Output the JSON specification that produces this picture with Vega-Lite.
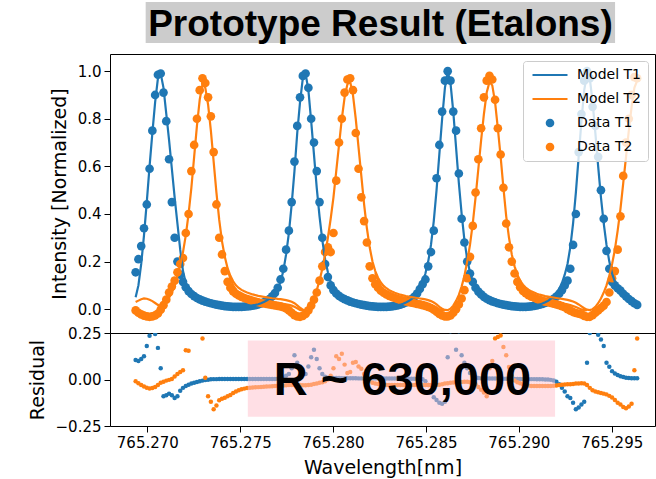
{
"$schema":"https://vega.github.io/schema/vega-lite/v6.json",
"padding":{"left":27,"top":2,"right":0,"bottom":0},
"config":{"font":"DejaVu Sans","view":{"stroke":"#000","strokeWidth":1},
"axis":{"labelFont":"DejaVu Sans","labelFontSize":15,"labelColor":"#000","titleFont":"DejaVu Sans","titleFontSize":19,"titleFontWeight":"normal","titleColor":"#000","tickColor":"#000","tickSize":6,"labelPadding":3,"titlePadding":8,"domain":false,"grid":false}},
"datasets":{
"main":[
{"w":765.26937,"d1":0.155,"m1":0.05,"r1":0.105,"d2":-0.005,"m2":0.03,"r2":-0.01},
{"w":765.26952,"d1":0.21,"m1":0.10,"r1":0.10,"d2":-0.015,"m2":0.036,"r2":-0.02},
{"w":765.26967,"d1":0.265,"m1":0.19,"r1":0.11,"d2":-0.022,"m2":0.042,"r2":-0.03},
{"w":765.26982,"d1":0.34,"m1":0.31,"r1":0.125,"d2":-0.027,"m2":0.045,"r2":-0.038},
{"w":765.26997,"d1":0.44,"m1":0.45,"r1":0.18,"d2":-0.03,"m2":0.044,"r2":-0.044},
{"w":765.27012,"d1":0.59,"m1":0.60,"r1":0.235,"d2":-0.032,"m2":0.04,"r2":-0.048},
{"w":765.27027,"d1":0.75,"m1":0.74,"r1":0.30,"d2":-0.03,"m2":0.034,"r2":-0.046},
{"w":765.27042,"d1":0.90,"m1":0.87,"r1":0.245,"d2":-0.026,"m2":0.026,"r2":-0.04},
{"w":765.27057,"d1":0.985,"m1":0.97,"r1":0.17,"d2":-0.018,"m2":0.018,"r2":-0.03},
{"w":765.27072,"d1":0.99,"m1":0.99,"r1":0.06,"d2":-0.002,"m2":0.014,"r2":-0.018},
{"w":765.27087,"d1":0.91,"m1":0.93,"r1":-0.09,"d2":0.017,"m2":0.018,"r2":-0.012},
{"w":765.27102,"d1":0.79,"m1":0.82,"r1":-0.085,"d2":0.04,"m2":0.03,"r2":-0.006},
{"w":765.27117,"d1":0.63,"m1":0.71,"r1":-0.076,"d2":0.07,"m2":0.048,"r2":-0.002},
{"w":765.27132,"d1":0.45,"m1":0.59,"r1":-0.085,"d2":0.095,"m2":0.07,"r2":0.003},
{"w":765.27147,"d1":0.30,"m1":0.47,"r1":-0.10,"d2":0.12,"m2":0.10,"r2":0.016},
{"w":765.27162,"d1":0.20,"m1":0.36,"r1":-0.09,"d2":0.155,"m2":0.14,"r2":0.03},
{"w":765.27177,"d1":0.145,"m1":0.25,"r1":-0.06,"d2":0.19,"m2":0.185,"r2":0.04},
{"w":765.27192,"d1":0.115,"m1":0.16,"r1":-0.045,"d2":0.215,"m2":0.24,"r2":0.05},
{"w":765.27207,"d1":0.092,"m1":0.11,"r1":-0.035,"d2":0.32,"m2":0.31,"r2":0.157},
{"w":765.27222,"d1":0.076,"m1":0.085,"r1":-0.028,"d2":0.40,"m2":0.40,"r2":0.155},
{"w":765.27237,"d1":0.064,"m1":0.07,"r1":-0.022,"d2":0.58,"m2":0.51,"r2":0.35},
{"w":765.27252,"d1":0.055,"m1":0.059,"r1":-0.017,"d2":0.69,"m2":0.64,"r2":0.40},
{"w":765.27267,"d1":0.047,"m1":0.05,"r1":-0.013,"d2":0.80,"m2":0.77,"r2":0.36},
{"w":765.27282,"d1":0.041,"m1":0.043,"r1":-0.009,"d2":0.92,"m2":0.88,"r2":0.30},
{"w":765.27297,"d1":0.036,"m1":0.038,"r1":-0.006,"d2":0.97,"m2":0.945,"r2":0.22},
{"w":765.27312,"d1":0.032,"m1":0.033,"r1":-0.003,"d2":0.95,"m2":0.93,"r2":0.01},
{"w":765.27327,"d1":0.028,"m1":0.029,"r1":-0.001,"d2":0.89,"m2":0.86,"r2":-0.09},
{"w":765.27342,"d1":0.025,"m1":0.026,"r1":0.001,"d2":0.81,"m2":0.75,"r2":-0.12},
{"w":765.27357,"d1":0.022,"m1":0.023,"r1":0.002,"d2":0.66,"m2":0.62,"r2":-0.16},
{"w":765.27372,"d1":0.019,"m1":0.02,"r1":0.002,"d2":0.44,"m2":0.49,"r2":-0.14},
{"w":765.27387,"d1":0.017,"m1":0.018,"r1":0.003,"d2":0.30,"m2":0.375,"r2":-0.112},
{"w":765.27402,"d1":0.015,"m1":0.016,"r1":0.003,"d2":0.23,"m2":0.285,"r2":-0.104},
{"w":765.27417,"d1":0.013,"m1":0.014,"r1":0.003,"d2":0.16,"m2":0.22,"r2":-0.098},
{"w":765.27432,"d1":0.012,"m1":0.013,"r1":0.003,"d2":0.115,"m2":0.172,"r2":-0.09},
{"w":765.27447,"d1":0.011,"m1":0.012,"r1":0.003,"d2":0.09,"m2":0.14,"r2":-0.083},
{"w":765.27462,"d1":0.010,"m1":0.011,"r1":0.003,"d2":0.075,"m2":0.117,"r2":-0.072},
{"w":765.27477,"d1":0.010,"m1":0.011,"r1":0.003,"d2":0.065,"m2":0.10,"r2":-0.064},
{"w":765.27492,"d1":0.010,"m1":0.011,"r1":0.003,"d2":0.058,"m2":0.089,"r2":-0.058},
{"w":765.27507,"d1":0.010,"m1":0.011,"r1":0.003,"d2":0.052,"m2":0.081,"r2":-0.053},
{"w":765.27522,"d1":0.011,"m1":0.012,"r1":0.003,"d2":0.047,"m2":0.075,"r2":-0.049},
{"w":765.27537,"d1":0.012,"m1":0.013,"r1":0.003,"d2":0.043,"m2":0.07,"r2":-0.046},
{"w":765.27552,"d1":0.013,"m1":0.014,"r1":0.003,"d2":0.039,"m2":0.066,"r2":-0.044},
{"w":765.27567,"d1":0.015,"m1":0.016,"r1":0.003,"d2":0.035,"m2":0.062,"r2":-0.043},
{"w":765.27582,"d1":0.017,"m1":0.018,"r1":0.003,"d2":0.032,"m2":0.059,"r2":-0.042},
{"w":765.27597,"d1":0.020,"m1":0.021,"r1":0.003,"d2":0.029,"m2":0.056,"r2":-0.041},
{"w":765.27612,"d1":0.024,"m1":0.025,"r1":0.003,"d2":0.026,"m2":0.054,"r2":-0.04},
{"w":765.27627,"d1":0.029,"m1":0.03,"r1":0.003,"d2":0.024,"m2":0.052,"r2":-0.039},
{"w":765.27642,"d1":0.035,"m1":0.036,"r1":0.003,"d2":0.022,"m2":0.05,"r2":-0.038},
{"w":765.27657,"d1":0.043,"m1":0.044,"r1":0.003,"d2":0.02,"m2":0.048,"r2":-0.037},
{"w":765.27672,"d1":0.054,"m1":0.055,"r1":0.003,"d2":0.018,"m2":0.046,"r2":-0.036},
{"w":765.27687,"d1":0.068,"m1":0.068,"r1":0.003,"d2":0.016,"m2":0.045,"r2":-0.035},
{"w":765.27702,"d1":0.09,"m1":0.087,"r1":0.004,"d2":0.014,"m2":0.043,"r2":-0.034},
{"w":765.27717,"d1":0.125,"m1":0.115,"r1":0.006,"d2":0.012,"m2":0.042,"r2":-0.033},
{"w":765.27732,"d1":0.17,"m1":0.16,"r1":0.01,"d2":0.008,"m2":0.04,"r2":-0.032},
{"w":765.27747,"d1":0.25,"m1":0.23,"r1":0.02,"d2":0.003,"m2":0.038,"r2":-0.031},
{"w":765.27762,"d1":0.33,"m1":0.32,"r1":0.03,"d2":-0.005,"m2":0.035,"r2":-0.03},
{"w":765.27777,"d1":0.45,"m1":0.44,"r1":0.06,"d2":-0.015,"m2":0.031,"r2":-0.03},
{"w":765.27792,"d1":0.62,"m1":0.58,"r1":0.13,"d2":-0.025,"m2":0.025,"r2":-0.03},
{"w":765.27807,"d1":0.77,"m1":0.74,"r1":0.09,"d2":-0.03,"m2":0.016,"r2":-0.03},
{"w":765.27822,"d1":0.89,"m1":0.87,"r1":0.07,"d2":-0.032,"m2":0.006,"r2":-0.03},
{"w":765.27837,"d1":0.98,"m1":0.97,"r1":0.045,"d2":-0.028,"m2":-0.002,"r2":-0.031},
{"w":765.27852,"d1":0.99,"m1":0.99,"r1":0.03,"d2":-0.02,"m2":-0.004,"r2":-0.031},
{"w":765.27867,"d1":0.93,"m1":0.92,"r1":0.07,"d2":-0.005,"m2":0.004,"r2":-0.03},
{"w":765.27882,"d1":0.80,"m1":0.79,"r1":0.12,"d2":0.015,"m2":0.02,"r2":-0.028},
{"w":765.27897,"d1":0.70,"m1":0.65,"r1":0.16,"d2":0.04,"m2":0.045,"r2":-0.024},
{"w":765.27912,"d1":0.58,"m1":0.51,"r1":0.11,"d2":0.07,"m2":0.08,"r2":-0.022},
{"w":765.27927,"d1":0.45,"m1":0.39,"r1":0.06,"d2":0.12,"m2":0.12,"r2":-0.018},
{"w":765.27942,"d1":0.30,"m1":0.29,"r1":0.03,"d2":0.18,"m2":0.17,"r2":-0.015},
{"w":765.27957,"d1":0.19,"m1":0.21,"r1":0.015,"d2":0.24,"m2":0.23,"r2":-0.01},
{"w":765.27972,"d1":0.135,"m1":0.155,"r1":0.01,"d2":0.26,"m2":0.30,"r2":0.0},
{"w":765.27987,"d1":0.10,"m1":0.115,"r1":0.008,"d2":0.24,"m2":0.38,"r2":0.02},
{"w":765.28002,"d1":0.08,"m1":0.09,"r1":0.008,"d2":0.32,"m2":0.47,"r2":0.06},
{"w":765.28017,"d1":0.066,"m1":0.072,"r1":0.008,"d2":0.54,"m2":0.58,"r2":0.125},
{"w":765.28032,"d1":0.056,"m1":0.06,"r1":0.008,"d2":0.70,"m2":0.69,"r2":0.11},
{"w":765.28047,"d1":0.048,"m1":0.05,"r1":0.007,"d2":0.80,"m2":0.80,"r2":0.139},
{"w":765.28062,"d1":0.042,"m1":0.043,"r1":0.007,"d2":0.91,"m2":0.89,"r2":0.08},
{"w":765.28077,"d1":0.037,"m1":0.037,"r1":0.007,"d2":0.965,"m2":0.945,"r2":0.035},
{"w":765.28092,"d1":0.032,"m1":0.032,"r1":0.007,"d2":0.97,"m2":0.955,"r2":0.04},
{"w":765.28107,"d1":0.028,"m1":0.028,"r1":0.007,"d2":0.92,"m2":0.90,"r2":0.09},
{"w":765.28122,"d1":0.025,"m1":0.025,"r1":0.007,"d2":0.74,"m2":0.80,"r2":0.094},
{"w":765.28137,"d1":0.022,"m1":0.022,"r1":0.006,"d2":0.59,"m2":0.68,"r2":0.07},
{"w":765.28152,"d1":0.019,"m1":0.019,"r1":0.006,"d2":0.47,"m2":0.56,"r2":0.058},
{"w":765.28167,"d1":0.017,"m1":0.017,"r1":0.006,"d2":0.37,"m2":0.44,"r2":0.03},
{"w":765.28182,"d1":0.015,"m1":0.015,"r1":0.006,"d2":0.28,"m2":0.34,"r2":0.005},
{"w":765.28197,"d1":0.013,"m1":0.013,"r1":0.006,"d2":0.18,"m2":0.26,"r2":-0.01},
{"w":765.28212,"d1":0.012,"m1":0.012,"r1":0.006,"d2":0.13,"m2":0.20,"r2":-0.018},
{"w":765.28227,"d1":0.011,"m1":0.011,"r1":0.006,"d2":0.105,"m2":0.16,"r2":-0.022},
{"w":765.28242,"d1":0.010,"m1":0.011,"r1":0.006,"d2":0.09,"m2":0.132,"r2":-0.024},
{"w":765.28257,"d1":0.010,"m1":0.011,"r1":0.006,"d2":0.078,"m2":0.112,"r2":-0.026},
{"w":765.28272,"d1":0.010,"m1":0.011,"r1":0.006,"d2":0.069,"m2":0.098,"r2":-0.028},
{"w":765.28287,"d1":0.010,"m1":0.011,"r1":0.005,"d2":0.062,"m2":0.088,"r2":-0.03},
{"w":765.28302,"d1":0.011,"m1":0.012,"r1":0.005,"d2":0.056,"m2":0.08,"r2":-0.03},
{"w":765.28317,"d1":0.012,"m1":0.013,"r1":0.005,"d2":0.051,"m2":0.074,"r2":-0.03},
{"w":765.28332,"d1":0.014,"m1":0.014,"r1":0.005,"d2":0.047,"m2":0.069,"r2":-0.03},
{"w":765.28347,"d1":0.016,"m1":0.016,"r1":0.005,"d2":0.043,"m2":0.065,"r2":-0.03},
{"w":765.28362,"d1":0.019,"m1":0.019,"r1":0.005,"d2":0.039,"m2":0.061,"r2":-0.03},
{"w":765.28377,"d1":0.023,"m1":0.023,"r1":0.005,"d2":0.036,"m2":0.058,"r2":-0.03},
{"w":765.28392,"d1":0.028,"m1":0.028,"r1":0.005,"d2":0.033,"m2":0.055,"r2":-0.03},
{"w":765.28407,"d1":0.034,"m1":0.034,"r1":0.004,"d2":0.03,"m2":0.053,"r2":-0.03},
{"w":765.28422,"d1":0.042,"m1":0.042,"r1":0.004,"d2":0.027,"m2":0.051,"r2":-0.03},
{"w":765.28437,"d1":0.052,"m1":0.052,"r1":0.004,"d2":0.025,"m2":0.049,"r2":-0.03},
{"w":765.28452,"d1":0.066,"m1":0.066,"r1":0.004,"d2":0.022,"m2":0.047,"r2":-0.03},
{"w":765.28467,"d1":0.085,"m1":0.085,"r1":0.004,"d2":0.02,"m2":0.045,"r2":-0.03},
{"w":765.28482,"d1":0.105,"m1":0.11,"r1":0.002,"d2":0.017,"m2":0.043,"r2":-0.03},
{"w":765.28497,"d1":0.125,"m1":0.15,"r1":-0.01,"d2":0.014,"m2":0.041,"r2":-0.03},
{"w":765.28512,"d1":0.18,"m1":0.2,"r1":-0.03,"d2":0.01,"m2":0.038,"r2":-0.03},
{"w":765.28527,"d1":0.24,"m1":0.27,"r1":-0.07,"d2":0.005,"m2":0.034,"r2":-0.03},
{"w":765.28542,"d1":0.33,"m1":0.37,"r1":-0.095,"d2":-0.002,"m2":0.028,"r2":-0.03},
{"w":765.28557,"d1":0.55,"m1":0.5,"r1":-0.11,"d2":-0.01,"m2":0.02,"r2":-0.03},
{"w":765.28572,"d1":0.69,"m1":0.65,"r1":-0.125,"d2":-0.02,"m2":0.01,"r2":-0.028},
{"w":765.28587,"d1":0.83,"m1":0.8,"r1":-0.13,"d2":-0.026,"m2":0.002,"r2":-0.025},
{"w":765.28602,"d1":0.96,"m1":0.93,"r1":-0.12,"d2":-0.03,"m2":-0.003,"r2":-0.022},
{"w":765.28617,"d1":1.0,"m1":1.0,"r1":0.12,"d2":-0.03,"m2":-0.004,"r2":-0.02},
{"w":765.28632,"d1":0.96,"m1":0.95,"r1":0.26,"d2":-0.026,"m2":0.002,"r2":-0.018},
{"w":765.28647,"d1":0.83,"m1":0.83,"r1":0.30,"d2":-0.015,"m2":0.015,"r2":-0.016},
{"w":765.28662,"d1":0.75,"m1":0.68,"r1":0.16,"d2":0.0,"m2":0.035,"r2":-0.015},
{"w":765.28677,"d1":0.57,"m1":0.53,"r1":0.26,"d2":0.02,"m2":0.06,"r2":-0.014},
{"w":765.28692,"d1":0.38,"m1":0.4,"r1":0.13,"d2":0.045,"m2":0.095,"r2":-0.013},
{"w":765.28707,"d1":0.28,"m1":0.29,"r1":0.09,"d2":0.08,"m2":0.14,"r2":-0.012},
{"w":765.28722,"d1":0.20,"m1":0.21,"r1":0.06,"d2":0.13,"m2":0.20,"r2":-0.012},
{"w":765.28737,"d1":0.15,"m1":0.155,"r1":0.035,"d2":0.22,"m2":0.27,"r2":-0.015},
{"w":765.28752,"d1":0.115,"m1":0.117,"r1":0.02,"d2":0.35,"m2":0.36,"r2":-0.02},
{"w":765.28767,"d1":0.09,"m1":0.092,"r1":0.012,"d2":0.49,"m2":0.47,"r2":-0.025},
{"w":765.28782,"d1":0.074,"m1":0.075,"r1":0.008,"d2":0.63,"m2":0.59,"r2":-0.04},
{"w":765.28797,"d1":0.062,"m1":0.062,"r1":0.006,"d2":0.76,"m2":0.71,"r2":-0.055},
{"w":765.28812,"d1":0.052,"m1":0.052,"r1":0.006,"d2":0.89,"m2":0.82,"r2":-0.07},
{"w":765.28827,"d1":0.044,"m1":0.044,"r1":0.006,"d2":0.96,"m2":0.91,"r2":-0.09},
{"w":765.28842,"d1":0.038,"m1":0.038,"r1":0.005,"d2":0.98,"m2":0.955,"r2":0.06},
{"w":765.28857,"d1":0.033,"m1":0.033,"r1":0.005,"d2":0.965,"m2":0.94,"r2":0.10},
{"w":765.28872,"d1":0.029,"m1":0.029,"r1":0.005,"d2":0.88,"m2":0.87,"r2":0.22},
{"w":765.28887,"d1":0.025,"m1":0.025,"r1":0.005,"d2":0.76,"m2":0.76,"r2":0.228},
{"w":765.28902,"d1":0.022,"m1":0.022,"r1":0.004,"d2":0.65,"m2":0.64,"r2":0.237},
{"w":765.28917,"d1":0.019,"m1":0.019,"r1":0.004,"d2":0.51,"m2":0.51,"r2":0.175},
{"w":765.28932,"d1":0.017,"m1":0.017,"r1":0.004,"d2":0.36,"m2":0.39,"r2":0.13},
{"w":765.28947,"d1":0.015,"m1":0.015,"r1":0.004,"d2":0.26,"m2":0.30,"r2":0.067},
{"w":765.28962,"d1":0.013,"m1":0.013,"r1":0.003,"d2":0.20,"m2":0.23,"r2":0.02},
{"w":765.28977,"d1":0.012,"m1":0.012,"r1":0.003,"d2":0.15,"m2":0.18,"r2":-0.005},
{"w":765.28992,"d1":0.011,"m1":0.011,"r1":0.003,"d2":0.115,"m2":0.145,"r2":-0.015},
{"w":765.29007,"d1":0.010,"m1":0.011,"r1":0.003,"d2":0.092,"m2":0.12,"r2":-0.02},
{"w":765.29022,"d1":0.010,"m1":0.011,"r1":0.002,"d2":0.077,"m2":0.103,"r2":-0.025},
{"w":765.29037,"d1":0.010,"m1":0.011,"r1":0.002,"d2":0.067,"m2":0.091,"r2":-0.03},
{"w":765.29052,"d1":0.011,"m1":0.012,"r1":0.002,"d2":0.059,"m2":0.082,"r2":-0.033},
{"w":765.29067,"d1":0.012,"m1":0.013,"r1":0.002,"d2":0.053,"m2":0.075,"r2":-0.035},
{"w":765.29082,"d1":0.014,"m1":0.015,"r1":0.002,"d2":0.048,"m2":0.07,"r2":-0.035},
{"w":765.29097,"d1":0.016,"m1":0.017,"r1":0.001,"d2":0.043,"m2":0.065,"r2":-0.035},
{"w":765.29112,"d1":0.019,"m1":0.02,"r1":0.001,"d2":0.039,"m2":0.061,"r2":-0.035},
{"w":765.29127,"d1":0.022,"m1":0.024,"r1":0.001,"d2":0.035,"m2":0.058,"r2":-0.035},
{"w":765.29142,"d1":0.026,"m1":0.029,"r1":0.0,"d2":0.032,"m2":0.055,"r2":-0.035},
{"w":765.29157,"d1":0.031,"m1":0.035,"r1":0.0,"d2":0.029,"m2":0.053,"r2":-0.035},
{"w":765.29172,"d1":0.037,"m1":0.043,"r1":-0.002,"d2":0.026,"m2":0.051,"r2":-0.035},
{"w":765.29187,"d1":0.044,"m1":0.053,"r1":-0.005,"d2":0.023,"m2":0.049,"r2":-0.034},
{"w":765.29202,"d1":0.053,"m1":0.067,"r1":-0.012,"d2":0.02,"m2":0.047,"r2":-0.032},
{"w":765.29217,"d1":0.065,"m1":0.085,"r1":-0.025,"d2":0.017,"m2":0.045,"r2":-0.03},
{"w":765.29232,"d1":0.08,"m1":0.11,"r1":-0.045,"d2":0.013,"m2":0.043,"r2":-0.028},
{"w":765.29247,"d1":0.10,"m1":0.145,"r1":-0.065,"d2":0.008,"m2":0.041,"r2":-0.027},
{"w":765.29262,"d1":0.12,"m1":0.19,"r1":-0.09,"d2":0.0,"m2":0.039,"r2":-0.026},
{"w":765.29277,"d1":0.17,"m1":0.26,"r1":-0.10,"d2":-0.006,"m2":0.036,"r2":-0.025},
{"w":765.29292,"d1":0.27,"m1":0.36,"r1":-0.125,"d2":-0.012,"m2":0.032,"r2":-0.024},
{"w":765.29307,"d1":0.40,"m1":0.49,"r1":-0.16,"d2":-0.016,"m2":0.027,"r2":-0.022},
{"w":765.29322,"d1":0.66,"m1":0.64,"r1":-0.15,"d2":-0.019,"m2":0.02,"r2":-0.021},
{"w":765.29337,"d1":0.82,"m1":0.79,"r1":-0.135,"d2":-0.022,"m2":0.012,"r2":-0.02},
{"w":765.29352,"d1":0.96,"m1":0.92,"r1":-0.12,"d2":-0.028,"m2":0.004,"r2":-0.022},
{"w":765.29367,"d1":1.0,"m1":0.99,"r1":0.09,"d2":-0.032,"m2":-0.002,"r2":-0.03},
{"w":765.29382,"d1":0.97,"m1":0.97,"r1":0.25,"d2":-0.032,"m2":-0.004,"r2":-0.045},
{"w":765.29397,"d1":0.85,"m1":0.87,"r1":0.30,"d2":-0.025,"m2":0.0,"r2":-0.058},
{"w":765.29412,"d1":0.77,"m1":0.74,"r1":0.32,"d2":-0.015,"m2":0.01,"r2":-0.064},
{"w":765.29427,"d1":0.64,"m1":0.60,"r1":0.24,"d2":-0.005,"m2":0.025,"r2":-0.068},
{"w":765.29442,"d1":0.50,"m1":0.47,"r1":0.215,"d2":0.005,"m2":0.045,"r2":-0.072},
{"w":765.29457,"d1":0.38,"m1":0.36,"r1":0.18,"d2":0.015,"m2":0.07,"r2":-0.076},
{"w":765.29472,"d1":0.245,"m1":0.27,"r1":0.09,"d2":0.03,"m2":0.10,"r2":-0.08},
{"w":765.29487,"d1":0.17,"m1":0.20,"r1":0.068,"d2":0.07,"m2":0.14,"r2":-0.088},
{"w":765.29502,"d1":0.115,"m1":0.15,"r1":0.045,"d2":0.13,"m2":0.19,"r2":-0.097},
{"w":765.29517,"d1":0.10,"m1":0.115,"r1":0.032,"d2":0.16,"m2":0.25,"r2":-0.11},
{"w":765.29532,"d1":0.088,"m1":0.09,"r1":0.024,"d2":0.25,"m2":0.33,"r2":-0.125},
{"w":765.29547,"d1":0.078,"m1":0.072,"r1":0.018,"d2":0.39,"m2":0.42,"r2":-0.135},
{"w":765.29562,"d1":0.065,"m1":0.058,"r1":0.014,"d2":0.56,"m2":0.53,"r2":-0.148},
{"w":765.29577,"d1":0.054,"m1":0.047,"r1":0.01,"d2":0.70,"m2":0.64,"r2":-0.155},
{"w":765.29592,"d1":0.043,"m1":0.038,"r1":0.008,"d2":0.80,"m2":0.75,"r2":-0.145},
{"w":765.29607,"d1":0.034,"m1":0.031,"r1":0.007,"d2":0.90,"m2":0.85,"r2":-0.13},
{"w":765.29622,"d1":0.025,"m1":0.025,"r1":0.007,"d2":0.975,"m2":0.93,"r2":0.05},
{"w":765.29637,"d1":0.018,"m1":0.02,"r1":0.007,"d2":0.97,"m2":0.96,"r2":0.22}
],
"pass2":[
{"w":765.27432,"v":0.165,"seg":1},{"w":765.27447,"v":0.128,"seg":1},{"w":765.27462,"v":0.10,"seg":1},{"w":765.27477,"v":0.082,"seg":1},{"w":765.27492,"v":0.07,"seg":1},{"w":765.27507,"v":0.062,"seg":1},{"w":765.27522,"v":0.056,"seg":1},{"w":765.27537,"v":0.05,"seg":1},{"w":765.27552,"v":0.046,"seg":1},{"w":765.27567,"v":0.042,"seg":1},{"w":765.27582,"v":0.039,"seg":1},{"w":765.27597,"v":0.036,"seg":1},{"w":765.27612,"v":0.034,"seg":1},{"w":765.27627,"v":0.032,"seg":1},{"w":765.27642,"v":0.03,"seg":1},{"w":765.27657,"v":0.028,"seg":1},{"w":765.27672,"v":0.027,"seg":1},{"w":765.27687,"v":0.026,"seg":1},{"w":765.27702,"v":0.025,"seg":1},{"w":765.27717,"v":0.024,"seg":1},{"w":765.27732,"v":0.022,"seg":1},{"w":765.27747,"v":0.02,"seg":1},{"w":765.27762,"v":0.018,"seg":1},{"w":765.27777,"v":0.015,"seg":1},{"w":765.27792,"v":0.01,"seg":1},{"w":765.27807,"v":0.004,"seg":1},{"w":765.27822,"v":-0.003,"seg":1},{"w":765.27837,"v":-0.006,"seg":1},{"w":765.27852,"v":-0.004,"seg":1},
{"w":765.28227,"v":0.155,"seg":2},{"w":765.28242,"v":0.12,"seg":2},{"w":765.28257,"v":0.096,"seg":2},{"w":765.28272,"v":0.08,"seg":2},{"w":765.28287,"v":0.069,"seg":2},{"w":765.28302,"v":0.061,"seg":2},{"w":765.28317,"v":0.055,"seg":2},{"w":765.28332,"v":0.05,"seg":2},{"w":765.28347,"v":0.046,"seg":2},{"w":765.28362,"v":0.042,"seg":2},{"w":765.28377,"v":0.039,"seg":2},{"w":765.28392,"v":0.036,"seg":2},{"w":765.28407,"v":0.034,"seg":2},{"w":765.28422,"v":0.032,"seg":2},{"w":765.28437,"v":0.03,"seg":2},{"w":765.28452,"v":0.028,"seg":2},{"w":765.28467,"v":0.026,"seg":2},{"w":765.28482,"v":0.024,"seg":2},{"w":765.28497,"v":0.022,"seg":2},{"w":765.28512,"v":0.02,"seg":2},{"w":765.28527,"v":0.017,"seg":2},{"w":765.28542,"v":0.012,"seg":2},{"w":765.28557,"v":0.006,"seg":2},{"w":765.28572,"v":-0.001,"seg":2},{"w":765.28587,"v":-0.005,"seg":2},{"w":765.28602,"v":-0.005,"seg":2},
{"w":765.28992,"v":0.14,"seg":3},{"w":765.29007,"v":0.108,"seg":3},{"w":765.29022,"v":0.087,"seg":3},{"w":765.29037,"v":0.073,"seg":3},{"w":765.29052,"v":0.063,"seg":3},{"w":765.29067,"v":0.056,"seg":3},{"w":765.29082,"v":0.05,"seg":3},{"w":765.29097,"v":0.046,"seg":3},{"w":765.29112,"v":0.042,"seg":3},{"w":765.29127,"v":0.039,"seg":3},{"w":765.29142,"v":0.036,"seg":3},{"w":765.29157,"v":0.034,"seg":3},{"w":765.29172,"v":0.032,"seg":3},{"w":765.29187,"v":0.03,"seg":3},{"w":765.29202,"v":0.028,"seg":3},{"w":765.29217,"v":0.026,"seg":3},{"w":765.29232,"v":0.024,"seg":3},{"w":765.29247,"v":0.022,"seg":3},{"w":765.29262,"v":0.02,"seg":3},{"w":765.29277,"v":0.017,"seg":3},{"w":765.29292,"v":0.013,"seg":3},{"w":765.29307,"v":0.009,"seg":3},{"w":765.29322,"v":0.004,"seg":3},{"w":765.29337,"v":-0.001,"seg":3},{"w":765.29352,"v":-0.004,"seg":3},{"w":765.29367,"v":-0.004,"seg":3}
]
},
"spacing":0,
"bounds":"flush",
"resolve":{"scale":{"x":"independent","y":"independent","color":"independent","shape":"independent"},"legend":{"color":"independent","shape":"independent"}},
"vconcat":[
{
"width":545,"height":52,
"view":{"stroke":null},
"data":{"values":[{"label":"Prototype Result (Etalons)"}]},
"layer":[
{"mark":{"type":"rect","color":"#cccccc"},
"encoding":{"x":{"datum":765.26991,"type":"quantitative","scale":{"domain":[765.26799,765.29733],"nice":false,"zero":false},"axis":null},
"x2":{"datum":765.29518},
"y":{"datum":0.2115,"type":"quantitative","scale":{"domain":[0,1],"nice":false,"zero":false},"axis":null},
"y2":{"datum":1}}},
{"mark":{"type":"text","font":"Liberation Sans","fontWeight":"bold","fontSize":37,"baseline":"alphabetic","align":"center","color":"#000"},
"encoding":{"x":{"datum":765.28255,"type":"quantitative"},"y":{"datum":0.346,"type":"quantitative"},"text":{"field":"label"}}}
]
},
{
"width":545,"height":279,
"data":{"name":"main"},
"layer":[
{"transform":[{"fold":["d1","d2"],"as":["series","val"]}],
"mark":{"type":"point","filled":true,"opacity":1,"size":75,"clip":true,"strokeWidth":0},
"encoding":{
"x":{"field":"w","type":"quantitative","scale":{"domain":[765.26799,765.29733],"nice":false,"zero":false},"axis":null},
"y":{"field":"val","type":"quantitative","scale":{"domain":[-0.1,1.072],"nice":false,"zero":false},"axis":{"values":[0,0.2,0.4,0.6,0.8,1.0],"format":".1f","title":"Intensity [Normalized]"}},
"color":{"field":"series","type":"nominal","scale":{"domain":["m1","m2","d1","d2"],"range":["#1f77b4","#ff7f0e","#1f77b4","#ff7f0e"]},
"legend":{"title":null,"orient":"top-right","offset":7,
"labelExpr":"datum.label == 'm1' ? 'Model T1' : datum.label == 'm2' ? 'Model T2' : datum.label == 'd1' ? 'Data T1' : 'Data T2'",
"labelFont":"DejaVu Sans","labelFontSize":14,"labelColor":"#000","symbolSize":75,"symbolOffset":13,"labelOffset":20,"symbolStrokeWidth":0,
"fillColor":"rgba(255,255,255,0.8)","strokeColor":"#cccccc","cornerRadius":3,"padding":7,"rowPadding":10}},
"shape":{"field":"series","type":"nominal","scale":{"domain":["m1","m2","d1","d2"],"range":["M-4.04,-0.254H4.04V0.254H-4.04Z","M-4.04,-0.254H4.04V0.254H-4.04Z","circle","circle"]},
"legend":{"title":null,"orient":"top-right","offset":7,
"labelExpr":"datum.label == 'm1' ? 'Model T1' : datum.label == 'm2' ? 'Model T2' : datum.label == 'd1' ? 'Data T1' : 'Data T2'",
"labelFont":"DejaVu Sans","labelFontSize":14,"labelColor":"#000","symbolSize":75,"symbolOffset":13,"labelOffset":20,"symbolStrokeWidth":0,
"fillColor":"rgba(255,255,255,0.8)","strokeColor":"#cccccc","cornerRadius":3,"padding":7,"rowPadding":10}},
"order":{"field":"series","type":"nominal"}
}},
{"data":{"name":"pass2"},
"mark":{"type":"line","strokeWidth":2.2,"color":"#ff7f0e","clip":true},
"encoding":{"x":{"field":"w","type":"quantitative"},"y":{"field":"v","type":"quantitative"},"detail":{"field":"seg","type":"nominal"}}},
{"transform":[{"fold":["m1","m2"],"as":["series","val"]}],
"mark":{"type":"line","strokeWidth":2.2,"clip":true},
"encoding":{"x":{"field":"w","type":"quantitative"},"y":{"field":"val","type":"quantitative"},"color":{"field":"series","type":"nominal"}}}
]
},
{
"width":545,"height":93,
"data":{"name":"main"},
"layer":[
{"mark":{"type":"point","filled":true,"opacity":1,"size":20,"clip":true,"color":"#1f77b4"},
"encoding":{"x":{"field":"w","type":"quantitative","scale":{"domain":[765.26799,765.29733],"nice":false,"zero":false},"axis":{"values":[765.270,765.275,765.280,765.285,765.290,765.295],"format":".3f","title":"Wavelength[nm]"}},
"y":{"field":"r1","type":"quantitative","scale":{"domain":[-0.25,0.25],"nice":false,"zero":false},"axis":{"values":[-0.25,0,0.25],"format":".2f","title":"Residual"}}}},
{"mark":{"type":"point","filled":true,"opacity":1,"size":20,"clip":true,"color":"#ff7f0e"},
"encoding":{"x":{"field":"w","type":"quantitative"},"y":{"field":"r2","type":"quantitative"}}},
{"data":{"values":[{}]},
"mark":{"type":"rect","color":"#ffc0cb","opacity":0.5},
"encoding":{"x":{"datum":765.27541,"type":"quantitative"},"x2":{"datum":765.29195},"y":{"datum":-0.2,"type":"quantitative"},"y2":{"datum":0.21}}},
{"data":{"values":[{"label":"R ~ 630,000"}]},
"mark":{"type":"text","font":"Liberation Sans","fontWeight":"bold","fontSize":47,"baseline":"alphabetic","align":"center","color":"#000"},
"encoding":{"x":{"datum":765.28374,"type":"quantitative"},"y":{"datum":-0.084,"type":"quantitative"},"text":{"field":"label"}}}
]
}
]
}
